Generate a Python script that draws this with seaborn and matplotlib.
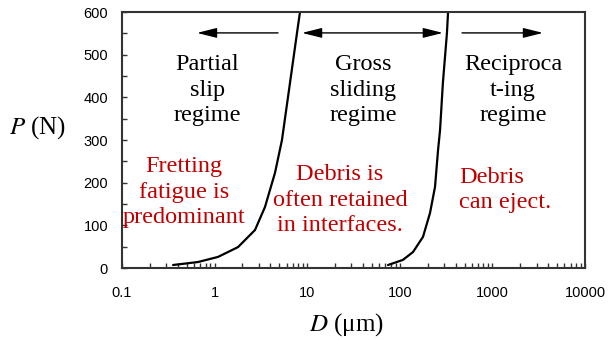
import matplotlib
matplotlib.use("Agg")
import matplotlib.pyplot as plt
import seaborn as sns
import pandas as pd
import numpy as np

# Boundary between partial slip and gross sliding
d_partial = [0.356, 0.662, 1.09, 1.79, 2.73, 3.50, 4.49, 5.34, 6.52, 7.76, 8.36]
p_partial = [7, 14, 26, 49, 89, 143, 223, 300, 434, 551, 600]
# Boundary between gross sliding and reciprocating
d_gross = [74.6, 108, 139, 178, 212, 240, 259, 272, 292, 323, 332]
p_gross = [7, 19, 37.5, 73, 129, 190, 277, 323, 434, 551, 600]

x_ticks = [0.1, 1, 10, 100, 1000, 10000]
x_tick_labels = ["0.1", "1", "10", "100", "1000", "10000"]
y_ticks = [0, 100, 200, 300, 400, 500, 600]

regime_labels = ["Partial\nslip\nregime", "Gross\nsliding\nregime", "Reciproca\nt-ing\nregime"]
regime_x = [0.83, 40, 1670]
note_labels = ["Fretting\nfatigue is\npredominant", "Debris is\noften retained\nin interfaces.", "Debris\ncan eject."]
note_x = [0.467, 22.6, 435]

arrow_y = 551
arrow_left = (4.84, 0.645)
arrow_both = (8.79, 292)
arrow_right = (470, 3520)

df = pd.DataFrame({
    "D": d_partial + d_gross,
    "P": p_partial + p_gross,
    "boundary": ["partial"] * len(d_partial) + ["gross"] * len(d_gross),
})

sns.set_style("ticks")
plt.rcParams["font.family"] = ["Liberation Sans", "DejaVu Sans"]
plt.rcParams["mathtext.fontset"] = "stix"
plt.rcParams["text.color"] = "black"
plt.rcParams["xtick.color"] = "black"
plt.rcParams["ytick.color"] = "black"

fig = plt.figure(figsize=(6.08, 3.40), dpi=100)
ax = fig.add_axes([122/608, 1-268/340, (585-122)/608, (268-12)/340])

sns.lineplot(data=df, x="D", y="P", units="boundary", estimator=None,
             color="black", lw=1.6, ax=ax, sort=False)

ax.set_xscale("log")
ax.set_xlim(0.1, 10000)
ax.set_ylim(0, 600)
ax.set_xticks(x_ticks)
ax.set_xticklabels(x_tick_labels)
ax.set_yticks(y_ticks)
ax.yaxis.set_minor_locator(matplotlib.ticker.MultipleLocator(50))
ax.xaxis.set_minor_locator(matplotlib.ticker.LogLocator(base=10, subs=np.arange(2, 10)))
ax.xaxis.set_minor_formatter(matplotlib.ticker.NullFormatter())
ax.tick_params(which="both", direction="in", length=3.5, width=1, color="#333333",
               labelcolor="black", labelsize=10.5)
ax.tick_params(axis="x", which="both", pad=13)
ax.tick_params(axis="y", which="both", pad=10)
ax.tick_params(which="both", top=False, right=False)
for s in ax.spines.values():
    s.set_linewidth(1.5)
    s.set_color("#333333")

ax.set_xlabel("")
ax.set_ylabel("")

serif = ["Liberation Serif", "DejaVu Serif"]
fs = 17.5
ls = 1.3
fig.text(346/608, 1-325/340, r"$D$ (μm)", ha="center", va="center",
         fontsize=18, family=serif, color="black")
fig.text(38/608, 1-128/340, r"$P$ (N)", ha="center", va="center", fontsize=18,
         family=serif, color="black")

for lab, x in zip(regime_labels, regime_x):
    ax.text(x, 417, lab, ha="center", va="center", fontsize=fs, family=serif,
            color="black", linespacing=ls)

red = "#c00000"
ax.text(note_x[0], 178, note_labels[0], ha="center", va="center", fontsize=fs,
        family=serif, color=red, multialignment="center", linespacing=ls)
ax.text(note_x[1], 159, note_labels[1], ha="center", va="center", fontsize=fs,
        family=serif, color=red, multialignment="center", linespacing=ls)
ax.text(note_x[2], 183, note_labels[2], ha="left", va="center", fontsize=fs,
        family=serif, color=red, multialignment="left", linespacing=ls)

akw = dict(arrowstyle="-|>,head_length=1.2,head_width=0.3", color="black", lw=1,
           shrinkA=0, shrinkB=0)
ax.annotate("", xy=(arrow_left[1], arrow_y), xytext=(arrow_left[0], arrow_y), arrowprops=akw)
ax.annotate("", xy=(arrow_right[1], arrow_y), xytext=(arrow_right[0], arrow_y), arrowprops=akw)
ax.annotate("", xy=(arrow_both[1], arrow_y), xytext=(arrow_both[0], arrow_y),
            arrowprops=dict(arrowstyle="<|-|>,head_length=1.2,head_width=0.3", color="black",
                            lw=1, shrinkA=0, shrinkB=0))

fig.savefig("out.png", dpi=100)
